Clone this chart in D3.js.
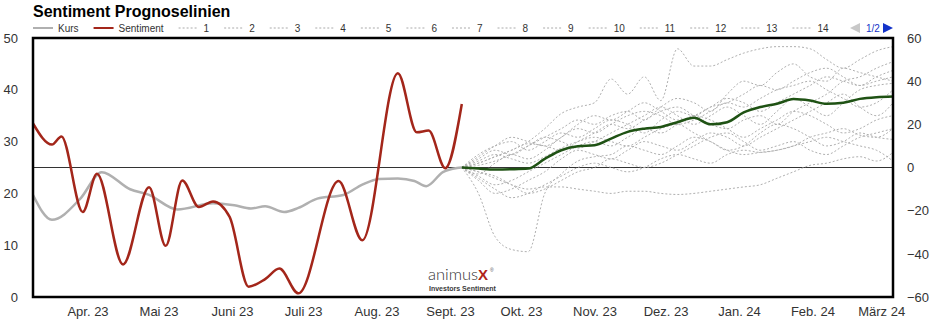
<!DOCTYPE html>
<html>
<head>
<meta charset="utf-8">
<script src="https://cdn.jsdelivr.net/npm/d3@7"></script>
<style>
  html, body { margin: 0; padding: 0; background: #fff; }
  svg { display: block; font-family: "Liberation Sans", Arial, sans-serif; }
</style>
</head>
<body>
<svg id="chart" width="938" height="328"></svg>
<script>
// ---- data ---------------------------------------------------------------
const monthTicks = ["2023-04-01","2023-05-01","2023-06-01","2023-07-01","2023-08-01","2023-09-01",
                    "2023-10-01","2023-11-01","2023-12-01","2024-01-01","2024-02-01","2024-03-01"];
const monthLabels = ["Apr. 23","Mai 23","Juni 23","Juli 23","Aug. 23","Sept. 23",
                     "Okt. 23","Nov. 23","Dez. 23","Jan. 24","Feb. 24","März 24"];
const leftTicks = [0, 10, 20, 30, 40, 50];
const rightTicks = [-60, -40, -20, 0, 20, 40, 60];

// price (left axis)
const kursDates = ["2023-03-09","2023-03-17","2023-03-29","2023-04-07","2023-04-19","2023-04-27",
                   "2023-05-09","2023-05-24","2023-06-02","2023-06-09","2023-06-15","2023-06-23",
                   "2023-06-29","2023-07-07","2023-07-18","2023-07-26","2023-08-02","2023-08-10",
                   "2023-08-17","2023-08-22","2023-08-29","2023-09-04","2023-09-06"];
const kursValues = [19.7,14.9,19.0,24.1,20.8,19.7,16.9,18.1,17.7,17.1,17.5,16.4,
                    17.2,19.0,19.7,21.7,22.8,22.9,22.4,21.4,24.1,24.9,25.0];

// sentiment (right axis)
const sentDates = ["2023-03-09","2023-03-17","2023-03-21","2023-03-30","2023-04-05","2023-04-16",
                   "2023-04-27","2023-05-04","2023-05-11","2023-05-18","2023-05-24","2023-05-31",
                   "2023-06-08","2023-06-15","2023-06-21","2023-06-29","2023-07-16","2023-07-26",
                   "2023-08-10","2023-08-18","2023-08-23","2023-08-30","2023-09-06"];
const sentValues = [20.4,10.6,14.4,-20.6,-2.9,-44.9,-9.1,-36.3,-6.0,-18.3,-15.7,-22.9,
                    -55.2,-51.7,-46.8,-58.3,-6.3,-33.7,43.7,16.3,17.1,-0.3,29.4];

// forecast weeks
const progDates = ["2023-09-06","2023-09-13","2023-09-20","2023-09-27","2023-10-04","2023-10-11",
                   "2023-10-18","2023-10-25","2023-11-01","2023-11-08","2023-11-15","2023-11-22",
                   "2023-11-29","2023-12-06","2023-12-13","2023-12-20","2023-12-27","2024-01-03",
                   "2024-01-10","2024-01-17","2024-01-24","2024-01-31","2024-02-07","2024-02-14",
                   "2024-02-21","2024-02-28","2024-03-06"];
const prog1  = [0,2,5,8,12,18,25,28,30,41,34,42,31,55,47,47,50,53,55,56,56,55,50,46,50,54,56];
const prog2  = [0,4,8,6,10,14,18,22,20,24,26,22,28,32,30,26,34,40,38,44,48,42,40,46,44,42,40];
const prog3  = [0,6,10,12,8,12,16,14,18,22,20,16,22,26,24,28,30,34,38,36,40,44,46,42,38,42,45];
const prog4  = [0,-3,2,6,4,8,14,18,16,20,24,26,24,20,22,26,30,28,32,36,38,40,36,32,28,30,36];
const prog5  = [0,2,5,8,11,10,8,12,16,20,18,22,26,28,24,20,18,22,24,20,26,30,34,40,42,46,49];
const prog6  = [0,-4,-8,-6,-2,2,6,10,12,10,14,18,16,20,24,22,18,14,18,22,26,24,20,16,18,22,24];
const prog7  = [0,-6,-12,-10,-6,-2,4,8,6,4,8,12,10,8,12,16,14,10,14,18,22,26,30,34,28,24,30];
const prog8  = [0,-12,-32,-38,-39,-12,-3,3,5,6,10,8,6,10,14,12,8,10,16,20,18,14,10,12,16,14,13];
const prog9  = [0,-2,-5,-8,-10,-9,-9,-10,-11,-12,-11,-11,-12,-12.5,-12,-11,-10,-9,-8,-5,-2,1,2,4,5,3,7];
const prog10 = [0,3,6,4,2,5,9,12,14,12,10,14,18,20,16,12,8,6,7,8,10,12,14,12,10,8,3];
const prog11 = [0,-5,-10,-14,-12,-8,-4,0,2,0,-2,0,4,6,4,2,6,8,7,8,10,14,16,18,15,14,18];
const prog12 = [0,5,10,14,12,10,14,20,24,22,26,30,26,22,24,28,32,30,26,30,34,38,42,40,38,40,42];
const prog13 = [0,1,3,6,10,14,12,9,12,16,20,24,28,24,20,24,28,24,20,26,32,28,24,30,36,38,39];
const prog14 = [0,-2,-4,-8,-12,-10,-6,-2,0,4,2,0,2,6,10,14,16,12,8,10,12,8,6,10,14,16,18];
const progMean = [0,-0.5,-0.9,-0.8,-0.5,4,8,9.8,10.3,13.4,16.5,18,18.8,21,23,20,21,25.5,28,29.5,31.7,31,29.5,30,31.8,32.6,32.9];
const progSeries = [prog1,prog2,prog3,prog4,prog5,prog6,prog7,prog8,prog9,prog10,prog11,prog12,prog13,prog14];

// ---- layout -------------------------------------------------------------
const plot = { left: 33, top: 38, right: 893, bottom: 297 };
const parse = d3.timeParse("%Y-%m-%d");

const colors = {
  kurs: "#b0b0b0",
  sent: "#a3261a",
  prog: "#b0b0b0",
  mean: "#1f5214",
  text: "#333",
  nav: "#1433c9"
};

const x = d3.scaleTime()
  .domain([parse("2023-03-09"), parse("2024-03-06")])
  .range([plot.left, plot.right]);
const yL = d3.scaleLinear().domain([0, 50]).range([plot.bottom, plot.top]);
const yR = d3.scaleLinear().domain([-60, 60]).range([plot.bottom, plot.top]);

const svg = d3.select("#chart");

// title
svg.append("text")
  .attr("x", 33).attr("y", 17)
  .attr("font-size", 16).attr("font-weight", "bold").attr("fill", "#000")
  .text("Sentiment Prognoselinien");

// ---- legend -------------------------------------------------------------
const legendItems = [
  { name: "Kurs", color: colors.kurs, width: 2, dash: null },
  { name: "Sentiment", color: colors.sent, width: 2, dash: null }
].concat(progSeries.map((_, i) => ({ name: String(i + 1), color: "#aaa", width: 1, dash: "2,2" })));

const legend = svg.append("g").attr("font-size", 10).attr("fill", colors.text);
let lx = 33;
const ly = 28;
legendItems.forEach(item => {
  legend.append("line")
    .attr("x1", lx).attr("x2", lx + 20).attr("y1", ly).attr("y2", ly)
    .attr("stroke", item.color).attr("stroke-width", item.width)
    .attr("stroke-dasharray", item.dash);
  const t = legend.append("text")
    .attr("x", lx + 25).attr("y", ly + 3.5)
    .text(item.name);
  lx += 25 + t.node().getComputedTextLength() + 15;
});
// legend pager
legend.append("path")
  .attr("d", d3.line()([[850, 28], [860, 23], [860, 33]]) + "Z")
  .attr("fill", "#c8c8c8");
legend.append("text")
  .attr("x", 866).attr("y", ly + 3.5)
  .attr("fill", colors.nav)
  .text("1/2");
legend.append("path")
  .attr("d", d3.line()([[883, 23], [893, 28], [883, 33]]) + "Z")
  .attr("fill", colors.nav);

// ---- axes labels --------------------------------------------------------
const axisL = svg.append("g").attr("transform", `translate(${plot.left - 15},0)`)
  .call(d3.axisLeft(yL).tickValues(leftTicks).tickSize(0).tickPadding(0));
const axisR = svg.append("g").attr("transform", `translate(${plot.right + 14},0)`)
  .call(d3.axisRight(yR).tickValues(rightTicks).tickSize(0).tickPadding(0));
const axisX = svg.append("g").attr("transform", `translate(0,${plot.bottom + 10})`)
  .call(d3.axisBottom(x).tickValues(monthTicks.map(parse))
        .tickFormat((d, i) => monthLabels[i]).tickSize(0).tickPadding(0));
[axisL, axisR, axisX].forEach(g => {
  g.select(".domain").remove();
  g.selectAll("text")
    .attr("font-family", "'Liberation Sans', Arial, sans-serif")
    .attr("font-size", 13).attr("fill", colors.text);
});
axisX.selectAll("text").attr("dy", "0.71em");

// ---- logo ---------------------------------------------------------------
const logo = svg.append("g");
const brand = logo.append("text").attr("x", 428).attr("y", 280)
  .attr("font-family", "Lato, 'Open Sans', sans-serif").attr("font-size", 16.5)
  .attr("font-weight", 300).attr("fill", "#333");
brand.append("tspan").text("animus");
brand.append("tspan").attr("font-family", "'Liberation Sans', Arial, sans-serif")
  .attr("font-weight", "bold").attr("font-size", 15).attr("fill", "#b0221a").text("X");
logo.append("text").attr("x", 490).attr("y", 272)
  .attr("font-size", 5).attr("fill", "#555").text("®");
logo.append("text").attr("x", 429).attr("y", 291)
  .attr("font-size", 7).attr("font-weight", "bold").attr("fill", "#3a3a3a")
  .text("Investors Sentiment");

// ---- series -------------------------------------------------------------
svg.append("defs").append("clipPath").attr("id", "plotclip")
  .append("rect").attr("x", plot.left).attr("y", plot.top)
  .attr("width", plot.right - plot.left).attr("height", plot.bottom - plot.top);

const layer = svg.append("g").attr("clip-path", "url(#plotclip)");

// zero line of the sentiment scale
layer.append("line")
  .attr("x1", plot.left).attr("x2", plot.right)
  .attr("y1", yR(0)).attr("y2", yR(0))
  .attr("stroke", "#333").attr("stroke-width", 1);

const lineR = (dates, vals) => d3.line()
  .x((d, i) => x(parse(dates[i])))
  .y(d => yR(d))
  .curve(d3.curveMonotoneX)(vals);
const lineL = (dates, vals) => d3.line()
  .x((d, i) => x(parse(dates[i])))
  .y(d => yL(d))
  .curve(d3.curveMonotoneX)(vals);

progSeries.forEach(vals => {
  layer.append("path")
    .attr("d", lineR(progDates, vals))
    .attr("fill", "none").attr("stroke", colors.prog)
    .attr("stroke-width", 1).attr("stroke-dasharray", "2,2");
});

layer.append("path")
  .attr("d", lineL(kursDates, kursValues))
  .attr("fill", "none").attr("stroke", colors.kurs).attr("stroke-width", 2.5);

layer.append("path")
  .attr("d", lineR(sentDates, sentValues))
  .attr("fill", "none").attr("stroke", colors.sent).attr("stroke-width", 2.5);

layer.append("path")
  .attr("d", lineR(progDates, progMean))
  .attr("fill", "none").attr("stroke", colors.mean).attr("stroke-width", 2.5);

// plot frame
svg.append("rect")
  .attr("x", plot.left).attr("y", plot.top)
  .attr("width", plot.right - plot.left).attr("height", plot.bottom - plot.top)
  .attr("fill", "none").attr("stroke", "#000").attr("stroke-width", 2.5);
</script>
</body>
</html>
